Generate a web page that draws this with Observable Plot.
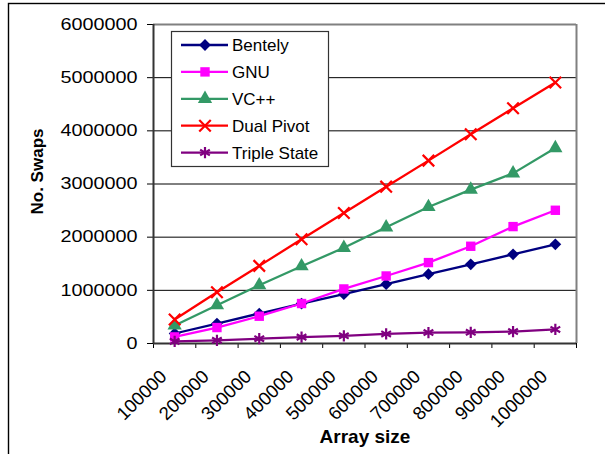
<!DOCTYPE html>
<html><head><meta charset="utf-8">
<script src="https://cdn.jsdelivr.net/npm/d3@7"></script>
<script src="https://cdn.jsdelivr.net/npm/@observablehq/plot@0.6"></script>
<style>
html,body{margin:0;padding:0;background:#fff;}
#chart{position:relative;width:605px;height:454px;overflow:hidden;background:#fff;}
</style></head><body><div id="chart"></div>
<script>
const categories = ["100000","200000","300000","400000","500000","600000","700000","800000","900000","1000000"];
const bentely     = [188000, 376000, 564000, 752000, 927000, 1115000, 1303000, 1490000, 1678000, 1866000];
const gnu         = [124000, 300000, 513000, 752000, 1026000, 1270000, 1522000, 1829000, 2199000, 2506000];
const vcpp        = [340000, 720000, 1096000, 1453000, 1800000, 2186000, 2568000, 2895000, 3200000, 3677000];
const dualPivot   = [450000, 965000, 1460000, 1960000, 2455000, 2950000, 3440000, 3935000, 4425000, 4910000];
const tripleState = [40000, 60000, 90000, 120000, 145000, 180000, 205000, 210000, 225000, 265000];
const seriesNames = ["Bentely","GNU","VC++","Dual Pivot","Triple State"];
const seriesValues = [bentely, gnu, vcpp, dualPivot, tripleState];
const seriesColors = ["#000080","#FF00FF","#339966","#FF0000","#800080"];
const seriesSymbols = ["diamond2","square","triangle","times","asterisk"];
const yTicks = [0,1000000,2000000,3000000,4000000,5000000,6000000];
const yTickLabels = ["0","1000000","2000000","3000000","4000000","5000000","6000000"];
const xTitle = "Array size";
const yTitle = "No. Swaps";

const rows = [];
seriesValues.forEach((vals, s) => vals.forEach((v, i) => rows.push({series: seriesNames[s], pos: i + 1, value: v})));
const positions = categories.map((c, i) => i + 1);
const boundaries = d3.range(0.5, categories.length + 1, 1);
const strokeSymbols = new Set(["times","asterisk"]);
const markerR = 5.3;

const font = "'Liberation Sans', Arial, sans-serif";
const seriesMarks = [];
seriesNames.forEach((name, s) => {
  const data = rows.filter(d => d.series === name);
  seriesMarks.push(Plot.line(data, {x: "pos", y: "value", stroke: "series", strokeWidth: 2.3}));
  if (strokeSymbols.has(seriesSymbols[s])) {
    seriesMarks.push(Plot.dot(data, {x: "pos", y: "value", symbol: "series", stroke: "series", strokeWidth: 2.2, r: markerR}));
  } else {
    seriesMarks.push(Plot.dot(data, {x: "pos", y: "value", symbol: "series", fill: "series", stroke: "none", r: markerR}));
  }
});

const plot = Plot.plot({
  width: 605, height: 454,
  marginLeft: 153, marginRight: 29, marginTop: 24, marginBottom: 111,
  style: {fontFamily: font, fontSize: "17px", background: "#fff", overflow: "visible", color: "#000"},
  x: {type: "linear", domain: [0.5, categories.length + 0.5], axis: null},
  y: {domain: [yTicks[0], yTicks[yTicks.length - 1]], axis: null},
  color: {domain: seriesNames, range: seriesColors},
  symbol: {domain: seriesNames, range: seriesSymbols},
  marks: [
    Plot.gridY(yTicks.slice(1, -1), {stroke: "#000", strokeOpacity: 1, strokeWidth: 1}),
    Plot.ruleY([yTicks[yTicks.length - 1]], {stroke: "#808080", strokeWidth: 2}),
    Plot.ruleX([categories.length + 0.5], {stroke: "#808080", strokeWidth: 2}),
    Plot.axisY(yTicks, {label: null, tickSize: 6, tickPadding: 10, tickFormat: d => yTickLabels[yTicks.indexOf(d)], fontSize: 16.5}),
    Plot.axisX(boundaries, {label: null, tickSize: 5, tickFormat: () => ""}),
    Plot.axisX(positions, {label: null, tickSize: 0, tickRotate: -45, tickPadding: 30, dx: -11, tickFormat: d => categories[d - 1], fontSize: 18.5}),
    Plot.ruleX([0.5], {stroke: "#333", strokeWidth: 2}),
    Plot.ruleY([0], {stroke: "#333", strokeWidth: 2}),
    ...seriesMarks,
    Plot.text([xTitle], {frameAnchor: "bottom", dy: 99, fontWeight: "bold", fontSize: 19, fill: "#000"}),
    Plot.text([yTitle], {frameAnchor: "left", textAnchor: "middle", rotate: -90, dx: -116, dy: -12.5, fontWeight: "bold", fontSize: 17, fill: "#000"})
  ]
});

const svg = d3.select(plot);
svg.append("rect").attr("x", 8.5).attr("y", 3.5).attr("width", 700).attr("height", 600)
  .attr("fill", "none").attr("stroke", "#000").attr("stroke-width", 1.4);

// legend
const lg = svg.append("g").attr("text-anchor", "start");
lg.append("rect").attr("x", 171.5).attr("y", 31.5).attr("width", 157).attr("height", 135)
  .attr("fill", "#fff").attr("stroke", "#333").attr("stroke-width", 1.2);
const symMap = {diamond2: d3.symbolDiamond2, square: d3.symbolSquare, triangle: d3.symbolTriangle, times: d3.symbolTimes, asterisk: d3.symbolAsterisk};
seriesNames.forEach((name, s) => {
  const cy = 45 + s * 26.9;
  lg.append("line").attr("x1", 181).attr("x2", 228).attr("y1", cy).attr("y2", cy)
    .attr("stroke", seriesColors[s]).attr("stroke-width", 2.3);
  const path = d3.symbol(symMap[seriesSymbols[s]], Math.PI * markerR * markerR)();
  const p = lg.append("path").attr("d", path).attr("transform", `translate(205,${cy})`);
  if (strokeSymbols.has(seriesSymbols[s])) p.attr("fill", "none").attr("stroke", seriesColors[s]).attr("stroke-width", 2.2);
  else p.attr("fill", seriesColors[s]);
  lg.append("text").attr("x", 232).attr("y", cy).attr("dy", "0.36em").attr("text-anchor", "start")
    .attr("font-size", 17).attr("font-family", font).attr("fill", "#000").text(name);
});

document.getElementById("chart").appendChild(plot);

// widen y tick labels to match the reference's broad digits
svg.selectAll('g[aria-label="y-axis tick label"] text').each(function() {
  const w = this.getComputedTextLength();
  if (w > 0) {
    this.setAttribute("textLength", (w * 1.2).toFixed(1));
    this.setAttribute("lengthAdjust", "spacingAndGlyphs");
  }
});
</script></body></html>
